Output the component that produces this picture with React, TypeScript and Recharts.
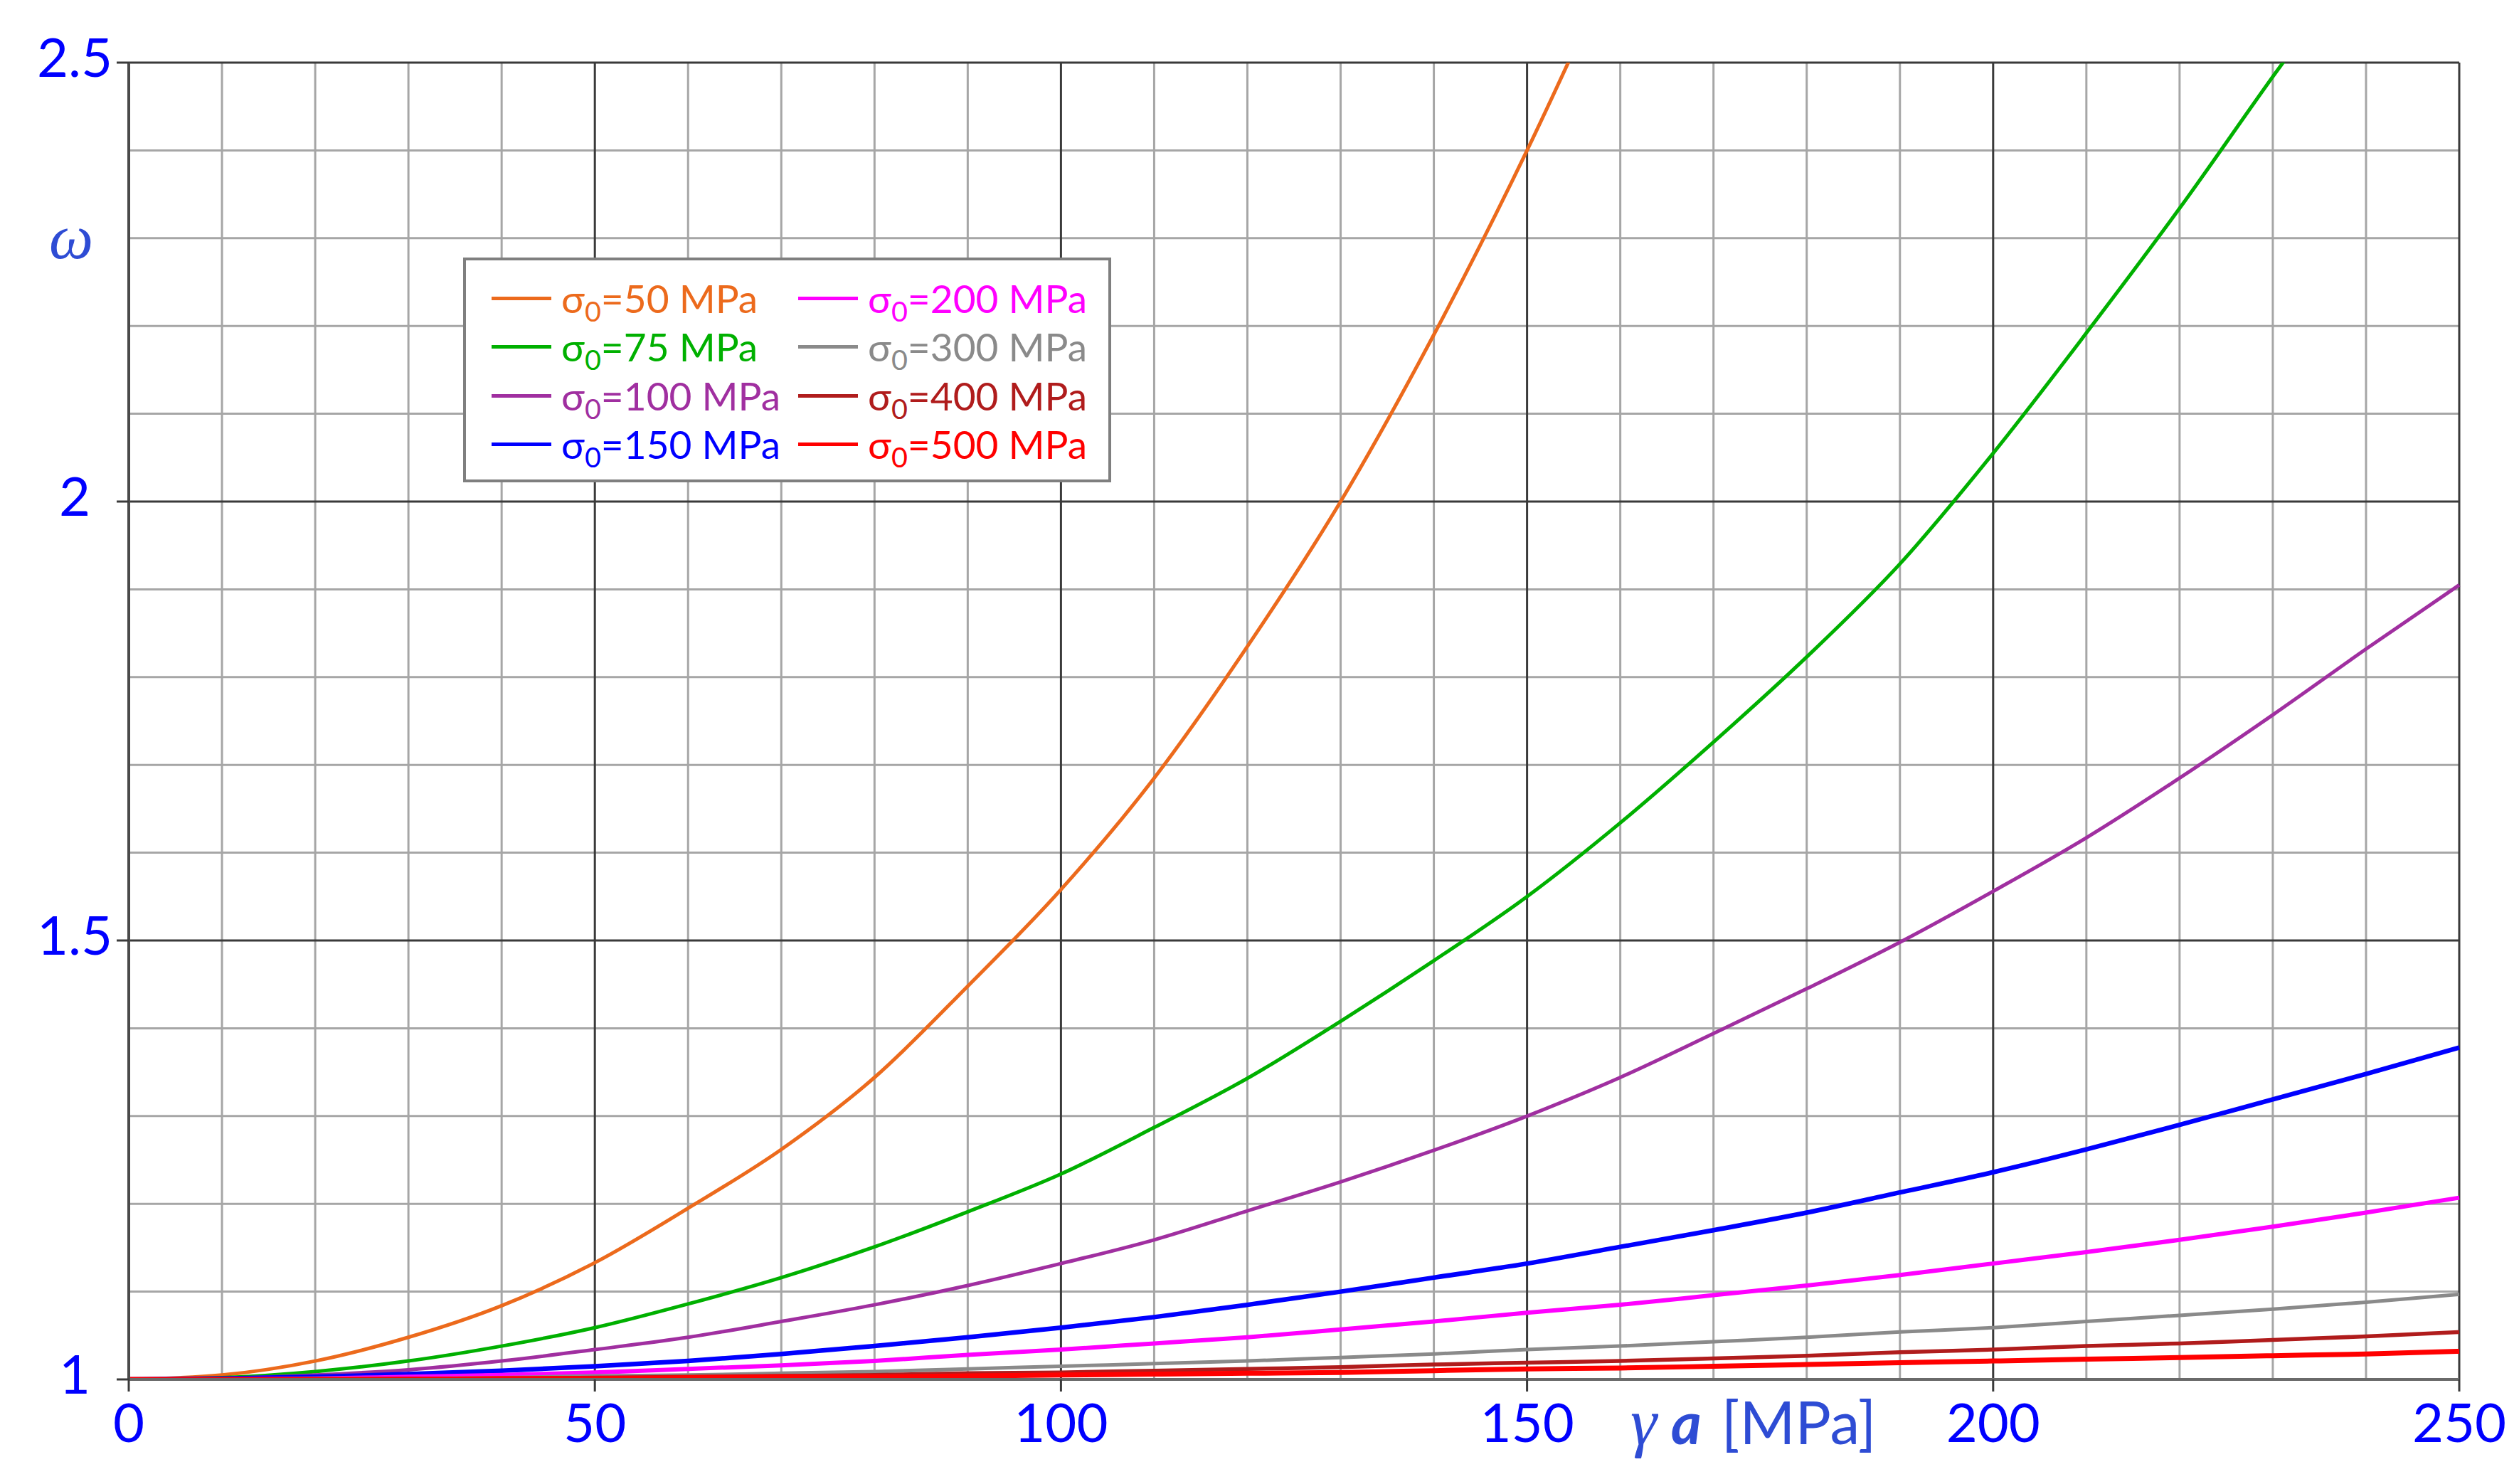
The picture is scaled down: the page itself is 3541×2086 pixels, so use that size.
import React from "react";
import {
  LineChart,
  Line,
  CartesianGrid,
  XAxis,
  YAxis,
  Legend
} from "recharts";

// γa [MPa]
const gammaA = [
  0, 10, 20, 30, 40, 50, 60, 70, 80, 90, 100, 110, 120, 130, 140, 150, 160,
  170, 180, 190, 200, 210, 220, 230, 240, 250
];

// ω for each σ0
const sigma50 = [
  1, 1.005, 1.021, 1.048, 1.084, 1.133, 1.195, 1.262, 1.344, 1.448, 1.558,
  1.685, 1.835, 2.0, 2.19, 2.4, 2.63
];
const sigma75 = [
  1, 1.002, 1.009, 1.021, 1.038, 1.059, 1.086, 1.116, 1.151, 1.191, 1.234,
  1.287, 1.343, 1.408, 1.477, 1.55, 1.634, 1.726, 1.823, 1.929, 2.055, 2.192,
  2.334, 2.484, 2.63
];
const sigma100 = [
  1, 1.001, 1.005, 1.011, 1.021, 1.034, 1.048, 1.066, 1.085, 1.107, 1.132,
  1.159, 1.192, 1.225, 1.261, 1.3, 1.344, 1.394, 1.445, 1.498, 1.556, 1.617,
  1.685, 1.757, 1.832, 1.905
];
const sigma150 = [
  1, 1.001, 1.003, 1.006, 1.01, 1.015, 1.021, 1.029, 1.038, 1.048, 1.059,
  1.071, 1.085, 1.1, 1.116, 1.132, 1.151, 1.17, 1.19, 1.213, 1.236, 1.262,
  1.29, 1.319, 1.348, 1.378
];
const sigma200 = [
  1, 1.0, 1.001, 1.003, 1.005, 1.008, 1.012, 1.016, 1.021, 1.028, 1.034,
  1.041, 1.048, 1.057, 1.066, 1.076, 1.085, 1.096, 1.107, 1.119, 1.132, 1.145,
  1.159, 1.174, 1.19, 1.207
];
const sigma300 = [
  1, 1.0, 1.001, 1.001, 1.002, 1.004, 1.005, 1.007, 1.009, 1.012, 1.015,
  1.018, 1.021, 1.025, 1.029, 1.034, 1.038, 1.043, 1.048, 1.054, 1.059, 1.066,
  1.073, 1.08, 1.088, 1.097
];
const sigma400 = [
  1, 1.0, 1.0, 1.001, 1.001, 1.002, 1.003, 1.004, 1.005, 1.007, 1.008, 1.01,
  1.012, 1.014, 1.017, 1.019, 1.021, 1.024, 1.027, 1.031, 1.034, 1.038, 1.041,
  1.045, 1.049, 1.054
];
const sigma500 = [
  1, 1.0, 1.0, 1.0, 1.001, 1.001, 1.002, 1.003, 1.003, 1.004, 1.005, 1.006,
  1.007, 1.008, 1.01, 1.012, 1.013, 1.015, 1.017, 1.019, 1.021, 1.023, 1.025,
  1.027, 1.029, 1.032
];

const xTicks = [0, 50, 100, 150, 200, 250];
const yTicks = [1, 1.5, 2, 2.5];
const xMinor = [
  10, 20, 30, 40, 60, 70, 80, 90, 110, 120, 130, 140, 160, 170, 180, 190, 210,
  220, 230, 240
];
const yMinor = [1.1, 1.2, 1.3, 1.4, 1.6, 1.7, 1.8, 1.9, 2.1, 2.2, 2.3, 2.4];

const series = [
  { key: "s50", label: "50", values: sigma50, color: "#EC6A1C", width: 5 },
  { key: "s75", label: "75", values: sigma75, color: "#00B000", width: 5 },
  { key: "s100", label: "100", values: sigma100, color: "#A02FA0", width: 5 },
  { key: "s150", label: "150", values: sigma150, color: "#0000FF", width: 6.5 },
  { key: "s200", label: "200", values: sigma200, color: "#FF00FF", width: 6 },
  { key: "s300", label: "300", values: sigma300, color: "#8A8A8A", width: 5 },
  { key: "s400", label: "400", values: sigma400, color: "#B01C1C", width: 5.5 },
  { key: "s500", label: "500", values: sigma500, color: "#FF0000", width: 7 }
];

const data = gammaA.map((g, i) => {
  const row: Record<string, number | undefined> = { g };
  series.forEach((s) => {
    row[s.key] = s.values[i];
  });
  return row;
});

const W = 3541;
const H = 2086;
const tickBlue = "#0000FF";
const titleBlue = "#2E4CD4";

function YTick(props: any) {
  const { x, y, payload } = props;
  return (
    <text
      x={x - 51}
      y={y}
      dy={20}
      textAnchor="middle"
      fill={tickBlue}
      fontFamily="Lato"
      fontSize={76}
    >
      {payload.value}
    </text>
  );
}

function LegendBox() {
  return (
    <div
      style={{
        boxSizing: "border-box",
        width: 911,
        height: 316,
        border: "4px solid #7F7F7F",
        background: "#fff",
        paddingTop: 19,
        paddingLeft: 36,
        display: "grid",
        gridTemplateColumns: "431px auto",
        gridTemplateRows: "repeat(4, 68.5px)",
        gridAutoFlow: "column",
        fontFamily: "Lato",
        fontSize: 55
      }}
    >
      {series.map((s) => (
        <div key={s.key} style={{ display: "flex", alignItems: "center" }}>
          <span
            style={{
              display: "inline-block",
              width: 84,
              height: 5,
              background: s.color,
              marginRight: 14
            }}
          />
          <span style={{ color: s.color, lineHeight: 1, whiteSpace: "nowrap" }}>
            σ
            <span
              style={{
                fontSize: "0.72em",
                position: "relative",
                top: "0.3em"
              }}
            >
              0
            </span>
            ={s.label} MPa
          </span>
        </div>
      ))}
    </div>
  );
}

export default function App() {
  return (
    <div
      style={{
        position: "absolute",
        left: 0,
        top: 0,
        width: W,
        height: H,
        background: "#fff"
      }}
    >
      <LineChart
        width={W}
        height={H}
        data={data}
        margin={{ top: 88, right: 84, bottom: 7, left: 11 }}
      >
        <CartesianGrid
          horizontalValues={yMinor}
          verticalValues={xMinor}
          stroke="#A6A6A6"
          strokeWidth={3}
        />
        <CartesianGrid
          horizontalValues={yTicks}
          verticalValues={xTicks}
          stroke="#3A3A3A"
          strokeWidth={3}
        />
        <XAxis
          dataKey="g"
          type="number"
          domain={[0, 250]}
          ticks={xTicks}
          height={140}
          tickSize={17}
          tickMargin={17}
          axisLine={{ stroke: "#6A6A6A", strokeWidth: 4 }}
          tickLine={{ stroke: "#3A3A3A", strokeWidth: 3 }}
          tick={{ fill: tickBlue, fontFamily: "Lato", fontSize: 76 }}
        />
        <YAxis
          type="number"
          domain={[1, 2.5]}
          ticks={yTicks}
          allowDataOverflow
          width={170}
          tickSize={17}
          tickMargin={8}
          axisLine={{ stroke: "#4A4A4A", strokeWidth: 4 }}
          tickLine={{ stroke: "#3A3A3A", strokeWidth: 3 }}
          tick={<YTick />}
        />
        {series.map((s) => (
          <Line
            key={s.key}
            dataKey={s.key}
            type="monotone"
            stroke={s.color}
            strokeWidth={s.width}
            dot={false}
            activeDot={false}
            isAnimationActive={false}
          />
        ))}
        <Legend
          layout="vertical"
          align="center"
          verticalAlign="middle"
          wrapperStyle={{ left: 651, top: 362, width: 911, height: 316 }}
          content={() => <LegendBox />}
        />
      </LineChart>
      <svg
        width={W}
        height={H}
        style={{ position: "absolute", left: 0, top: 0, pointerEvents: "none" }}
      >
        <text
          x={100}
          y={363}
          textAnchor="middle"
          fill={titleBlue}
          fontFamily="Liberation Serif"
          fontStyle="italic"
          fontSize={88}
        >
          ω
        </text>
        <text x={2292} y={2030} fill={titleBlue}>
          <tspan fontFamily="Liberation Serif" fontStyle="italic" fontSize={94}>
            γ
          </tspan>
          <tspan
            dx={20}
            fontFamily="Lato"
            fontWeight={700}
            fontStyle="italic"
            fontSize={82}
          >
            a
          </tspan>
          <tspan dx={28} fontFamily="Lato" fontSize={84}>
            [MPa]
          </tspan>
        </text>
      </svg>
    </div>
  );
}
